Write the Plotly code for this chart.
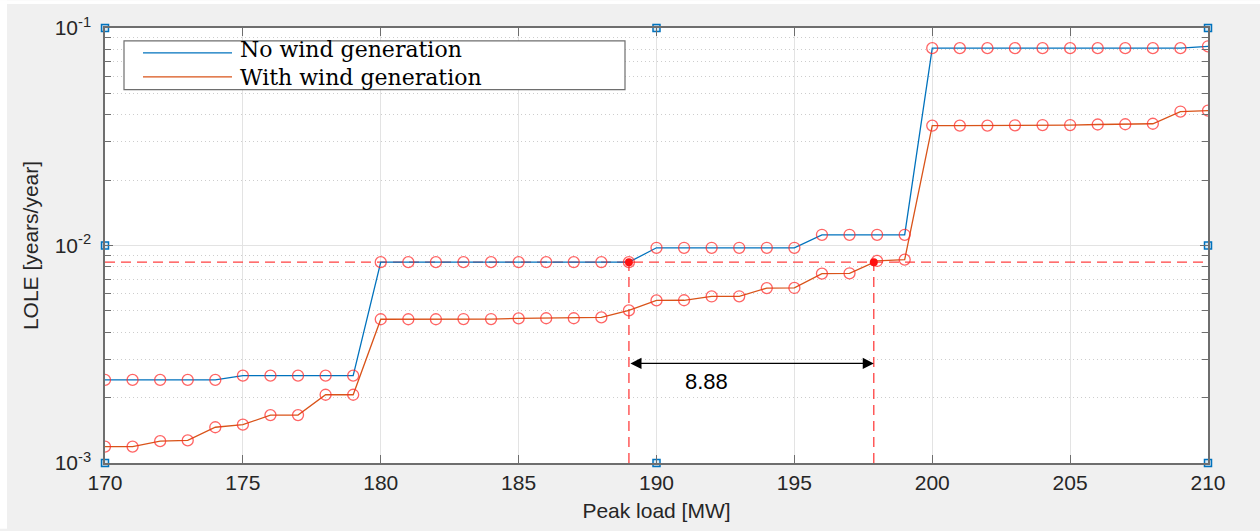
import plotly.graph_objects as go
import math

# ---------------- data ----------------
peak_load = list(range(170, 211))

lole_no_wind = [
    2.41e-3, 2.41e-3, 2.41e-3, 2.41e-3, 2.41e-3,
    2.52e-3, 2.52e-3, 2.52e-3, 2.52e-3, 2.52e-3,
    8.38e-3, 8.38e-3, 8.38e-3, 8.38e-3, 8.38e-3,
    8.39e-3, 8.39e-3, 8.39e-3, 8.39e-3, 8.38e-3,
    9.76e-3, 9.76e-3, 9.76e-3, 9.76e-3, 9.76e-3, 9.76e-3,
    1.12e-2, 1.12e-2, 1.12e-2, 1.12e-2,
    8.08e-2, 8.08e-2, 8.08e-2, 8.08e-2, 8.08e-2,
    8.08e-2, 8.08e-2, 8.08e-2, 8.08e-2, 8.08e-2,
    8.24e-2,
]

lole_with_wind = [
    1.19e-3, 1.19e-3, 1.26e-3, 1.27e-3, 1.46e-3,
    1.50e-3, 1.66e-3, 1.66e-3, 2.06e-3, 2.06e-3,
    4.58e-3, 4.58e-3, 4.58e-3, 4.59e-3, 4.59e-3,
    4.62e-3, 4.63e-3, 4.63e-3, 4.67e-3, 5.03e-3,
    5.59e-3, 5.60e-3, 5.83e-3, 5.84e-3, 6.37e-3,
    6.38e-3, 7.43e-3, 7.45e-3, 8.49e-3, 8.61e-3,
    3.56e-2, 3.56e-2, 3.56e-2, 3.57e-2, 3.58e-2,
    3.58e-2, 3.60e-2, 3.61e-2, 3.63e-2, 4.13e-2,
    4.17e-2,
]

series_names = ["No wind generation", "With wind generation"]

# reference level / capacity credit annotation
ref_load = 189.0
credit = 8.88
wind_load = ref_load + credit
lole_threshold = 8.38e-3
arrow_level = 2.87e-3
label_pos = (191.8, 2.37e-3)

# data-tip style anchor squares
anchor_x = [170, 190, 210, 170, 210, 170, 190, 210]
anchor_y = [1e-1, 1e-1, 1e-1, 1e-2, 1e-2, 1e-3, 1e-3, 1e-3]

x_range = [170, 210]
y_decades = [1e-3, 1e-2, 1e-1]
y_tick_text = ["10<sup>-3</sup>", "10<sup>-2</sup>", "10<sup>-1</sup>"]
y_minor = [m * d for d in [1e-3, 1e-2] for m in range(2, 10)]

# ---------------- styling ----------------
BLUE = "#0072BD"
ORANGE = "#D95319"
MARK = "rgba(255,40,40,0.72)"
DASH = "rgba(255,30,30,0.85)"
AX = "#6E6E6E"
TXT = "#262626"
SANS = "Liberation Sans, Arial, sans-serif"
SERIF = "DejaVu Serif, serif"

W, H = 1260, 531
ML, MR, MT, MB = 105, 52, 28, 66
PW, PH = W - ML - MR, H - MT - MB


def px(xp):
    return (xp - ML) / PW


def py(yp):
    return (H - MB - yp) / PH


fig = go.Figure()

# dashed reference lines
fig.add_trace(go.Scatter(x=[x_range[0], x_range[1]], y=[lole_threshold, lole_threshold],
                         mode="lines", line=dict(color=DASH, width=1.3, dash="10px,6px"),
                         showlegend=False, hoverinfo="skip"))
for xv in [ref_load, wind_load]:
    fig.add_trace(go.Scatter(x=[xv, xv], y=[y_decades[0], lole_threshold],
                             mode="lines", line=dict(color=DASH, width=1.3, dash="10px,6px"),
                             showlegend=False, hoverinfo="skip"))

# series lines
fig.add_trace(go.Scatter(x=peak_load, y=lole_no_wind, mode="lines", name=series_names[0],
                         line=dict(color=BLUE, width=1.3), showlegend=False))
fig.add_trace(go.Scatter(x=peak_load, y=lole_with_wind, mode="lines", name=series_names[1],
                         line=dict(color=ORANGE, width=1.3), showlegend=False))

# circle markers
for ys in [lole_no_wind, lole_with_wind]:
    fig.add_trace(go.Scatter(x=peak_load, y=ys, mode="markers",
                             marker=dict(symbol="circle-open", size=11, color=MARK,
                                         line=dict(width=1.3, color=MARK)),
                             showlegend=False, hoverinfo="skip"))

# filled red points
fig.add_trace(go.Scatter(x=[ref_load, wind_load], y=[lole_threshold, lole_threshold],
                         mode="markers", marker=dict(size=8, color="#FF1010"),
                         showlegend=False, hoverinfo="skip"))

# anchor squares
fig.add_trace(go.Scatter(x=anchor_x, y=anchor_y, mode="markers",
                         marker=dict(symbol="square", size=7, color="rgba(0,114,189,0.15)",
                                     line=dict(width=1.5, color=BLUE)),
                         cliponaxis=False, showlegend=False, hoverinfo="skip"))

# double arrow and label
fig.add_annotation(x=wind_load, y=math.log10(arrow_level), ax=ref_load, ay=math.log10(arrow_level),
                   xref="x", yref="y", axref="x", ayref="y", text="", showarrow=True,
                   arrowhead=2, arrowside="end+start", arrowsize=1.7, arrowwidth=1.3,
                   arrowcolor="black")
fig.add_annotation(x=label_pos[0], y=math.log10(label_pos[1]), xref="x", yref="y",
                   text=f"{credit:.2f}", showarrow=False,
                   font=dict(family=SANS, size=22, color="black"))

# manual legend
fig.add_shape(type="rect", xref="paper", yref="paper", x0=px(124), x1=px(625), y0=py(90), y1=py(41),
              fillcolor="white", line=dict(color=AX, width=1.2), layer="above")
for i, (nm, col) in enumerate(zip(series_names, [BLUE, ORANGE])):
    ly = [53, 77][i]
    fig.add_shape(type="line", xref="paper", yref="paper", x0=px(143), x1=px(232), y0=py(ly), y1=py(ly),
                  line=dict(color=col, width=1.3), layer="above")
    fig.add_annotation(xref="paper", yref="paper", x=px(239),
                       y=py(63.5) if i == 0 else py(64.5), text=nm, showarrow=False,
                       xanchor="left", yanchor="bottom" if i == 0 else "top", borderpad=0,
                       font=dict(family=SERIF, size=22, color="black"))

# white strips at the left and top edges
fig.add_shape(type="rect", xref="paper", yref="paper", x0=px(0), x1=px(7), y0=py(H), y1=py(0),
              fillcolor="white", line=dict(width=0), layer="above")
fig.add_shape(type="rect", xref="paper", yref="paper", x0=px(0), x1=px(W), y0=py(4), y1=py(0),
              fillcolor="white", line=dict(width=0), layer="above")

fig.update_layout(
    width=W, height=H,
    margin=dict(l=ML, r=MR, t=MT, b=MB, pad=0),
    paper_bgcolor="#F0F0F0", plot_bgcolor="white",
    font=dict(family=SANS, size=20, color=TXT),
    xaxis=dict(range=x_range, dtick=5, tick0=170, showgrid=True, gridcolor="#E3E3E3", gridwidth=1,
               zeroline=False, showline=True, linecolor=AX, linewidth=1.5, mirror="ticks",
               ticks="inside", ticklen=8, tickcolor=AX, tickwidth=1.3,
               tickfont=dict(family=SANS, size=21, color=TXT),
               title=dict(text="Peak load [MW]", font=dict(family=SANS, size=21, color=TXT), standoff=10)),
    yaxis=dict(type="log", range=[-3.00005, -0.99995], tickvals=y_decades, ticktext=y_tick_text,
               showgrid=True, gridcolor="#E3E3E3", gridwidth=1.2,
               zeroline=False, showline=True, linecolor=AX, linewidth=1.5, mirror="ticks",
               ticks="inside", ticklen=8, tickcolor=AX, tickwidth=1.3, ticklabelstandoff=8,
               tickfont=dict(family=SANS, size=21, color=TXT),
               minor=dict(tickvals=y_minor, ticks="inside", ticklen=6, tickcolor=AX,
                          showgrid=True, gridcolor="#CDCDCD", griddash="1px,3px", gridwidth=1),
               title=dict(text="LOLE [years/year]", font=dict(family=SANS, size=21, color=TXT), standoff=10)),
)

fig.write_html("out.html")
